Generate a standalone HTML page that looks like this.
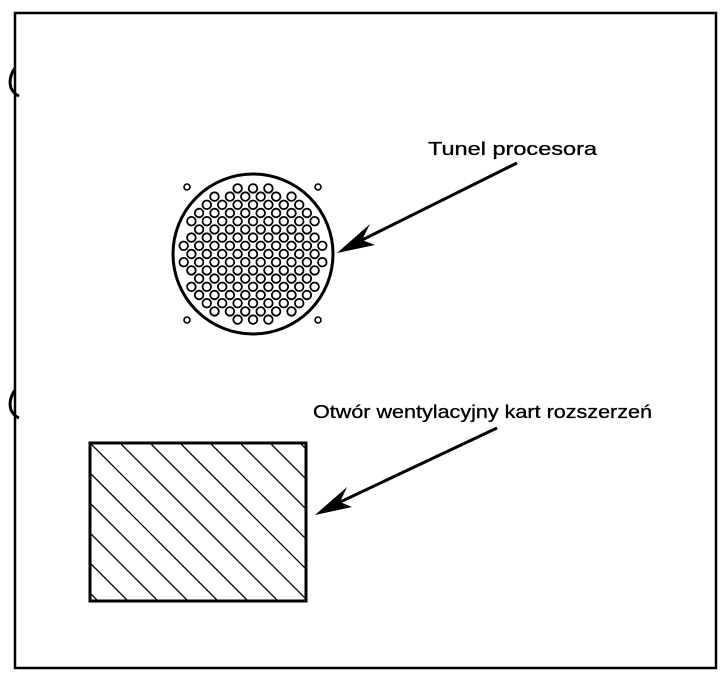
<!DOCTYPE html>
<html><head><meta charset="utf-8"><style>
html,body{margin:0;padding:0;background:#fff;width:723px;height:681px;overflow:hidden;}
svg{display:block;}
text{font-family:"Liberation Sans",Arial,sans-serif;font-size:18px;fill:#000;stroke:#000;stroke-width:0.3;}
</style></head><body>
<svg width="723" height="681" viewBox="0 0 723 681" xmlns="http://www.w3.org/2000/svg">
<rect x="15" y="13" width="701" height="655" fill="none" stroke="#000" stroke-width="2.5"/>
<path d="M15 68 Q8 78 11 88 Q14 94 19 96" fill="none" stroke="#000" stroke-width="3"/>
<path d="M15 390 Q8 400 11 410 Q14 416 19 418" fill="none" stroke="#000" stroke-width="3"/>
<circle cx="253" cy="254" r="80" fill="none" stroke="#000" stroke-width="3"/>
<g id="holes" fill="none" stroke="#000" stroke-width="1.8"></g>
<g fill="none" stroke="#000" stroke-width="1.6">
<circle cx="187" cy="187" r="3"/><circle cx="318" cy="187" r="3"/>
<circle cx="187" cy="320" r="3"/><circle cx="318" cy="320" r="3"/>
</g>
<text x="428" y="155" textLength="169" lengthAdjust="spacingAndGlyphs">Tunel procesora</text>
<line x1="517" y1="163" x2="360" y2="241" stroke="#000" stroke-width="3"/>
<polygon points="337,253 370,224 362,240 375,245" fill="#000"/>
<text x="313" y="418" textLength="339" lengthAdjust="spacingAndGlyphs">Otwór wentylacyjny kart rozszerzeń</text>
<line x1="497" y1="428" x2="338" y2="503" stroke="#000" stroke-width="3"/>
<polygon points="315,515 347,487 340,502 352,507" fill="#000"/>
<clipPath id="rc"><rect x="90" y="443" width="216" height="158"/></clipPath>
<g clip-path="url(#rc)" stroke="#000" stroke-width="1.3" id="hatch"></g>
<rect x="90" y="443" width="216" height="158" fill="none" stroke="#000" stroke-width="3"/>
</svg>
<script>
var ns="http://www.w3.org/2000/svg";
var g=document.getElementById('holes');
var cx=253,cy=254,dx=15.4,dy=8.2;
for(var j=-11;j<=11;j++){
  var off=(Math.abs(j)%2===0)?0:dx/2;
  for(var i=-7;i<=7;i++){
    var x=cx+i*dx+off,y=cy+j*dy;
    if(Math.hypot(x-cx,y-cy)<71){
      var c=document.createElementNS(ns,'circle');
      c.setAttribute('cx',x.toFixed(1));c.setAttribute('cy',y.toFixed(1));c.setAttribute('r','4.3');
      g.appendChild(c);
    }
  }
}
var h=document.getElementById('hatch');
for(var k=-8;k<=12;k++){
  var y0=443+k*30;
  var l=document.createElementNS(ns,'line');
  l.setAttribute('x1',90);l.setAttribute('y1',y0);
  l.setAttribute('x2',90+300);l.setAttribute('y2',y0+300);
  h.appendChild(l);
}
</script>
</body></html>
